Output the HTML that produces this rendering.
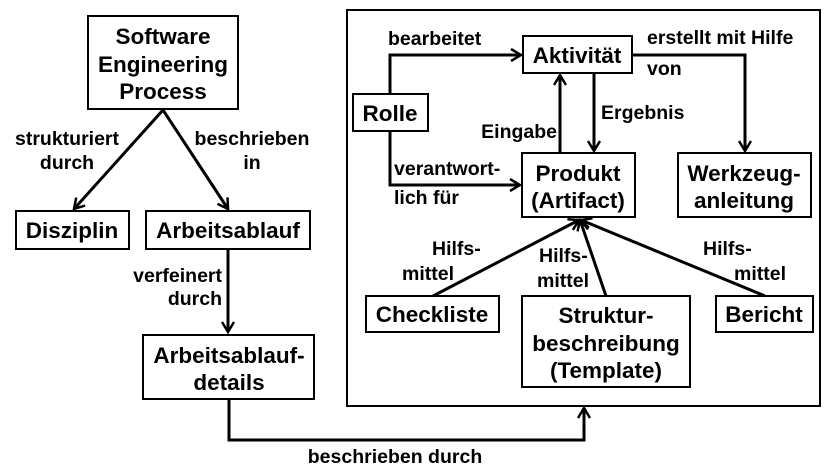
<!DOCTYPE html>
<html><head><meta charset="utf-8"><style>
body{margin:0;background:#fff}
svg text{font-family:"Liberation Sans",sans-serif;font-weight:bold;fill:#000}
.b{font-size:22.5px}.l{font-size:19.5px}
</style></head><body>
<svg width="830" height="469" viewBox="0 0 830 469" xmlns="http://www.w3.org/2000/svg">
<defs><marker id="a" markerWidth="14" markerHeight="14" refX="11" refY="7" orient="auto" markerUnits="userSpaceOnUse"><path d="M1,1 L11,7 L1,13" fill="none" stroke="#000" stroke-width="2.5"/></marker></defs>
<g fill="none" stroke="#000" stroke-width="2">
<rect x="88" y="16" width="150" height="93"/>
<rect x="16" y="211" width="113" height="38"/>
<rect x="146" y="211" width="164" height="38"/>
<rect x="143" y="335" width="171" height="64"/>
<rect x="347" y="10" width="473" height="396"/>
<rect x="523" y="36" width="109" height="37"/>
<rect x="353" y="94" width="75" height="37"/>
<rect x="522" y="153" width="113" height="64"/>
<rect x="678" y="153" width="133" height="64"/>
<rect x="366" y="296" width="133" height="36"/>
<rect x="522" y="296" width="168" height="91"/>
<rect x="716" y="296" width="97" height="36"/>
</g>
<g fill="none" stroke="#000" stroke-width="3">
<line x1="163" y1="110" x2="74" y2="209" marker-end="url(#a)"/>
<line x1="163" y1="110" x2="228" y2="209" marker-end="url(#a)"/>
<line x1="228" y1="249" x2="228" y2="332" marker-end="url(#a)"/>
<polyline points="229,399 229,440 584,440 584,408" marker-end="url(#a)"/>
<polyline points="390,94 390,55 521,55" marker-end="url(#a)"/>
<polyline points="390,131 390,185 520,185" marker-end="url(#a)"/>
<polyline points="632,55 745,55 745,151" marker-end="url(#a)"/>
<line x1="560" y1="153" x2="560" y2="75" marker-end="url(#a)"/>
<line x1="594" y1="73" x2="594" y2="151" marker-end="url(#a)"/>
<line x1="433" y1="296" x2="579" y2="220" marker-end="url(#a)"/>
<line x1="606" y1="296" x2="580" y2="220" marker-end="url(#a)"/>
<line x1="765" y1="296" x2="581" y2="220" marker-end="url(#a)"/>
</g>
<g class="b" text-anchor="middle">
<text x="163" y="44">Software</text><text x="163" y="72">Engineering</text><text x="163" y="99">Process</text>
<text x="72" y="238">Disziplin</text>
<text x="228" y="238">Arbeitsablauf</text>
<text x="229" y="363">Arbeitsablauf-</text><text x="229" y="390">details</text>
<text x="577" y="63">Aktivität</text>
<text x="390" y="121">Rolle</text>
<text x="578" y="181">Produkt</text><text x="578" y="208">(Artifact)</text>
<text x="744" y="181">Werkzeug-</text><text x="744" y="208">anleitung</text>
<text x="432" y="322">Checkliste</text>
<text x="606" y="323">Struktur-</text><text x="606" y="351">beschreibung</text><text x="606" y="378">(Template)</text>
<text x="764" y="322">Bericht</text>
</g>
<g class="l">
<text x="67" y="145" text-anchor="middle">strukturiert</text><text x="67" y="169" text-anchor="middle">durch</text>
<text x="252" y="145" text-anchor="middle">beschrieben</text><text x="252" y="169" text-anchor="middle">in</text>
<text x="222" y="282" text-anchor="end">verfeinert</text><text x="222" y="305" text-anchor="end">durch</text>
<text x="395" y="463" text-anchor="middle">beschrieben durch</text>
<text x="388" y="45">bearbeitet</text>
<text x="647" y="44">erstellt mit Hilfe</text><text x="647" y="75">von</text>
<text x="601" y="119">Ergebnis</text>
<text x="557" y="138" text-anchor="end">Eingabe</text>
<text x="394" y="175">verantwort-</text><text x="394" y="204">lich für</text>
<text x="432" y="255">Hilfs-</text><text x="402" y="280">mittel</text>
<text x="539" y="262">Hilfs-</text><text x="537" y="287">mittel</text>
<text x="703" y="255">Hilfs-</text><text x="734" y="280">mittel</text>
</g>
</svg>
</body></html>
